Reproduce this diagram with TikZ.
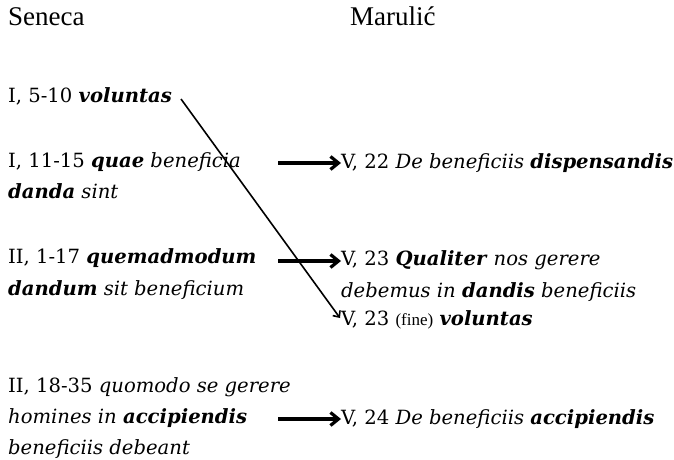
\documentclass[tikz,border=0pt]{standalone}
\usepackage{fontspec}
\setmainfont{DejaVu Serif}
\newfontfamily\headfont{Liberation Serif}
\usetikzlibrary{arrows.meta}
\newcommand{\bodyfont}{\fontsize{19.6}{31}\selectfont}
\newcommand{\bi}[1]{\textbf{\textit{#1}}}
\begin{document}
\begin{tikzpicture}[x=1pt,y=-1pt,
  txt/.style={anchor=base west, inner sep=0pt, font=\bodyfont},
  hd/.style={anchor=base west, inner sep=0pt, font=\headfont\fontsize{27}{30}\selectfont},
  bigarrow/.style={line width=3.2pt, -{Straight Barb[length=8pt,width=13pt]}},
  thinarrow/.style={line width=1.6pt, -{Straight Barb[length=5pt,width=9pt]}}]
\useasboundingbox (0,0) rectangle (674,460);
% headers
\node[hd] (seneca) at (8,26) {Seneca};
\node[hd] (marulic) at (350,26) {Marulić};
% Seneca column
\node[txt] (s1) at (8,102) {I, 5-10 \bi{voluntas}};
\node[txt] (s2a) at (8,167) {I, 11-15 \bi{quae} \textit{beneficia}};
\node[txt] (s2b) at (8,198) {\bi{danda} \textit{sint}};
\node[txt] (s3a) at (8,263) {II, 1-17 \bi{quemadmodum}};
\node[txt] (s3b) at (8,295) {\bi{dandum} \textit{sit beneficium}};
\node[txt] (s4a) at (8,392) {II, 18-35 \textit{quomodo se gerere}};
\node[txt] (s4b) at (8,423) {\textit{homines in} \bi{accipiendis}};
\node[txt] (s4c) at (8,454) {\textit{beneficiis debeant}};
% Marulic column
\node[txt] (m1) at (341,168) {V, 22 \textit{De beneficiis} \bi{dispensandis}};
\node[txt] (m2a) at (341,265) {V, 23 \bi{Qualiter} \textit{nos gerere}};
\node[txt] (m2b) at (341,297) {\textit{debemus in} \bi{dandis} \textit{beneficiis}};
\node[txt] (m3) at (341,325) {V, 23 {\headfont\fontsize{17}{20}\selectfont(fine)} \bi{voluntas}};
\node[txt] (m4) at (341,424) {V, 24 \textit{De beneficiis} \bi{accipiendis}};
% arrows
\coordinate (a1) at (278,163);
\coordinate (a2) at (278,261);
\coordinate (a4) at (278,419);
\draw[bigarrow] (a1) -- (a1 -| m1.west);
\draw[bigarrow] (a2) -- (a2 -| m2a.west);
\draw[bigarrow] (a4) -- (a4 -| m4.west);
\coordinate (d0) at (181,99);
\coordinate (d1) at (340,318);
\draw[thinarrow] (d0) -- (d1);
\end{tikzpicture}
\end{document}
